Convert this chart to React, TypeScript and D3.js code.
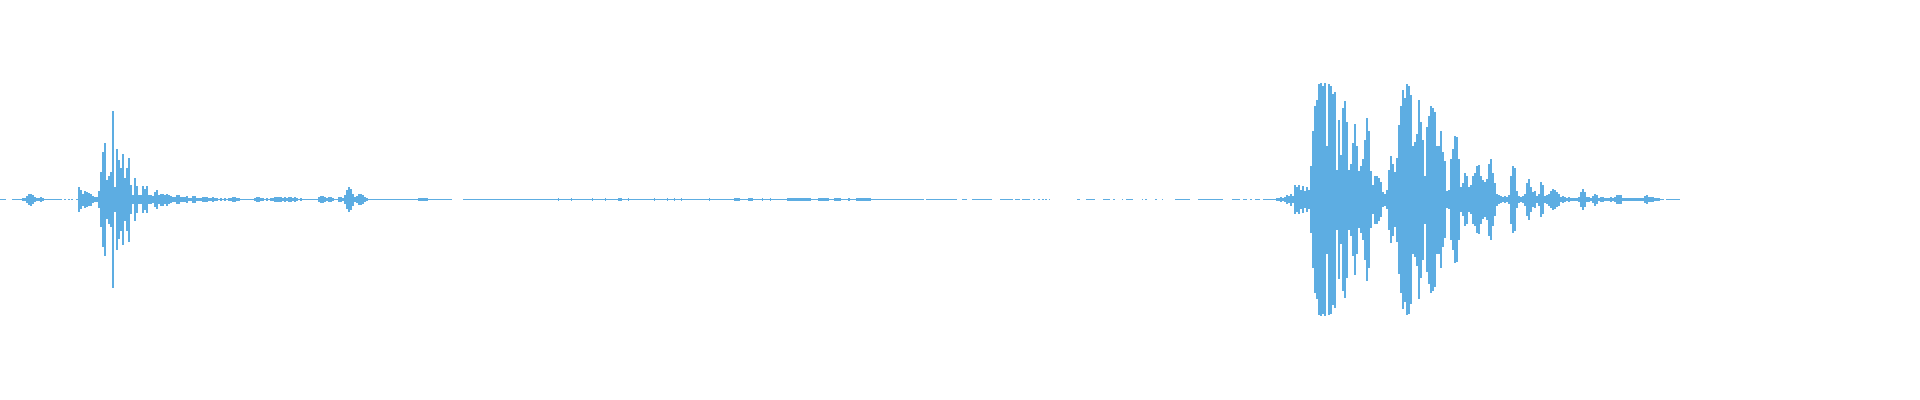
import { scaleLinear } from 'd3'
import { useMemo } from 'react'

// time axis is in seconds, one bucket = 10 ms
const duration = 8.4
const bucket = 0.01

// peak amplitude (0..1) per bucket
const blipStart = 0.11
const blip = [0.01, 0.015, 0.03, 0.045, 0.05, 0.035, 0.02, 0.01, 0.015, 0.02, 0.01]

const burstAStart = 0.39
const burstA = [
  0.10, 0.08, 0.05, 0.07, 0.06, 0.055, 0.05, 0.03, 0.025, 0.02,
  0.07, 0.23, 0.40, 0.47, 0.16, 0.20, 0.23, 0.74, 0.10, 0.42,
  0.33, 0.26, 0.38, 0.18, 0.26, 0.35, 0.12, 0.04, 0.18, 0.11,
  0.04, 0.04, 0.11, 0.09, 0.11, 0.04, 0.035, 0.03, 0.06, 0.08,
  0.04, 0.05, 0.05, 0.04, 0.05, 0.035, 0.03, 0.02, 0.02, 0.04,
  0.04, 0.025, 0.02, 0.025, 0.03, 0.015, 0.015, 0.03, 0.03, 0.015,
  0.015, 0.01, 0.02, 0.025, 0.02, 0.015, 0.01, 0.02, 0.015,
]

const echoAStart = 1.08
const echoA = [
  0.01, 0.008, 0.012, 0.008, 0.01, 0.008, 0.012, 0.015, 0.018, 0.018,
  0.015, 0.01, 0.005, 0.005, 0.005, 0.005, 0.005, 0.005, 0.005, 0.015,
  0.018, 0.018, 0.01, 0.015, 0.008, 0.015, 0.008, 0.01, 0.015, 0.018,
  0.02, 0.025, 0.02, 0.015, 0.018, 0.012, 0.018, 0.018, 0.015, 0.018,
  0.012, 0.005, 0.013, 0.008, 0.005, 0.005, 0.005, 0.005, 0.005, 0.005,
  0.005, 0.02, 0.028, 0.03, 0.025, 0.012, 0.018, 0.018, 0.01, 0.005,
  0.008, 0.02, 0.022, 0.015, 0.04, 0.08, 0.10, 0.085, 0.05, 0.02,
  0.03, 0.042, 0.045, 0.035, 0.02, 0.012, 0.008, 0.005,
]

const burstBStart = 6.38
const burstB = [
  0.01, 0.01, 0.02, 0.01, 0.02, 0.04, 0.03, 0.05, 0.03, 0.12,
  0.10, 0.12, 0.08, 0.11, 0.07, 0.10, 0.08, 0.28, 0.57, 0.78,
  0.83, 0.96, 0.97, 0.95, 0.97, 0.45, 0.96, 0.95, 0.88, 0.90,
  0.25, 0.66, 0.37, 0.76, 0.82, 0.65, 0.25, 0.30, 0.47, 0.63,
  0.45, 0.24, 0.28, 0.34, 0.50, 0.68, 0.57, 0.24, 0.12, 0.20,
  0.20, 0.18, 0.15, 0.06, 0.05, 0.08, 0.25, 0.36, 0.30, 0.23,
  0.35, 0.62, 0.78, 0.91, 0.85, 0.96, 0.95, 0.87, 0.45, 0.48,
  0.55, 0.83, 0.65, 0.50, 0.20, 0.60, 0.70, 0.78, 0.76, 0.73,
  0.45, 0.45, 0.57, 0.40, 0.32, 0.07, 0.08, 0.34, 0.42, 0.53,
  0.52, 0.34, 0.10, 0.14, 0.22, 0.20, 0.10, 0.12, 0.20, 0.22,
  0.28, 0.29, 0.20, 0.16, 0.15, 0.17, 0.30, 0.34, 0.22, 0.14,
  0.05, 0.04, 0.03, 0.02, 0.03, 0.02, 0.04, 0.20, 0.28, 0.26,
  0.07, 0.03, 0.02, 0.03, 0.05, 0.14, 0.17, 0.10, 0.06, 0.07,
  0.03, 0.05, 0.15, 0.12, 0.03, 0.04, 0.05, 0.07, 0.09, 0.08,
  0.06, 0.05, 0.02, 0.03, 0.02, 0.015, 0.02, 0.015, 0.01, 0.015,
  0.01, 0.02, 0.06, 0.09, 0.06, 0.02, 0.02, 0.015, 0.03, 0.05,
  0.04, 0.01, 0.02, 0.02, 0.01, 0.01, 0.015, 0.02, 0.015, 0.025,
  0.035, 0.04, 0.035, 0.01, 0.01, 0.01, 0.015, 0.01, 0.01, 0.01,
  0.015, 0.01, 0.01, 0.015, 0.03, 0.04, 0.025, 0.02, 0.02, 0.015,
  0.015, 0.01, 0.005, 0.005, 0, 0.005, 0.005, 0.005, 0.005, 0.005,
  0.005, 0.005,
]

// stretches where the noise floor is non-zero, in seconds
const floorSpans: [number, number][] = [
  [0, 0.03], [0.06, 0.31], [0.32, 0.33], [0.34, 0.35], [0.355, 0.365], [0.38, 2.26],
  [2.315, 4.62], [4.63, 4.785], [4.81, 4.835], [4.86, 4.96], [5.0, 5.065], [5.075, 5.1],
  [5.11, 5.15], [5.165, 5.175], [5.19, 5.2], [5.21, 5.22], [5.225, 5.235], [5.245, 5.25],
  [5.385, 5.4], [5.43, 5.475], [5.515, 5.55], [5.565, 5.575], [5.61, 5.615], [5.63, 5.665],
  [5.71, 5.715], [5.725, 5.735], [5.775, 5.785], [5.81, 5.815], [5.875, 5.95], [5.99, 6.115],
  [6.16, 6.2], [6.215, 6.235], [6.25, 6.26], [6.275, 6.3], [6.315, 6.385],
]

// tiny clicks in the quiet middle part
const hissSpans: [number, number][] = [
  [2.09, 2.14], [2.79, 2.795], [2.855, 2.86], [2.96, 2.965], [3.025, 3.03], [3.09, 3.11],
  [3.14, 3.145], [3.27, 3.275], [3.335, 3.34], [3.37, 3.375], [3.405, 3.41], [3.545, 3.55],
  [3.67, 3.7], [3.74, 3.765], [3.81, 3.815], [3.85, 3.855], [3.935, 4.055], [4.09, 4.145],
  [4.17, 4.205], [4.24, 4.25], [4.28, 4.355],
]
const floorLevel = 0.004
const hissLevel = 0.012

const colour = '#5dade2'

const App = () => {
  const width = 1920
  const height = 400

  const xScale = scaleLinear().domain([0, duration]).range([0, 1680])
  const yScale = scaleLinear().domain([-1, 1]).range([319.5, 79.5])

  const bars = useMemo(() => {
    const out: { t0: number; t1: number; a: number }[] = []
    const addSeries = (start: number, values: number[]) => {
      values.forEach((a, i) => {
        if (a > 0) out.push({ t0: start + i * bucket, t1: start + (i + 1) * bucket, a })
      })
    }
    floorSpans.forEach(([t0, t1]) => out.push({ t0, t1, a: floorLevel }))
    hissSpans.forEach(([t0, t1]) => out.push({ t0, t1, a: hissLevel }))
    addSeries(blipStart, blip)
    addSeries(burstAStart, burstA)
    addSeries(echoAStart, echoA)
    addSeries(burstBStart, burstB)
    return out
  }, [])

  return (
    <svg
      width={width}
      height={height}
      style={{ position: 'absolute', left: 0, top: 0, background: '#fff' }}
    >
      <g fill={colour} shapeRendering="crispEdges">
        {bars.map((b, i) => {
          const x0 = Math.round(xScale(b.t0))
          const x1 = Math.max(x0 + 1, Math.round(xScale(b.t1)))
          const y0 = Math.round(yScale(b.a))
          const y1 = Math.round(yScale(-b.a))
          const top = y1 - y0 < 1 ? 199 : y0
          return (
            <rect
              key={i}
              x={x0}
              width={x1 - x0}
              y={top}
              height={Math.max(1, y1 - y0)}
            />
          )
        })}
      </g>
    </svg>
  )
}

export default App
